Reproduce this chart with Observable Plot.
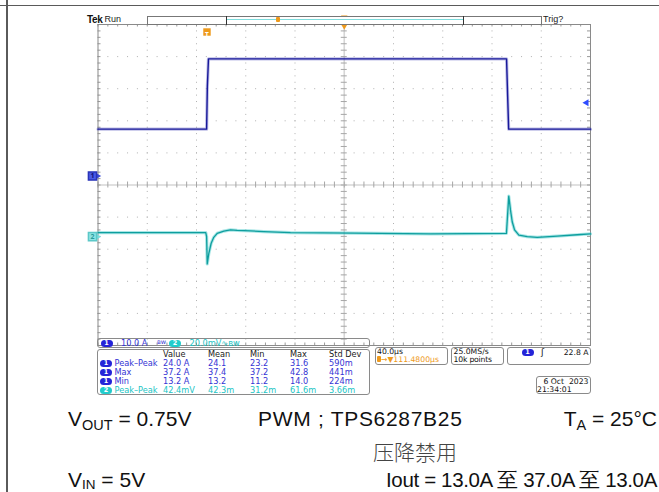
<!DOCTYPE html>
<html><head><meta charset="utf-8">
<script src="https://cdn.jsdelivr.net/npm/d3@7"></script>
<script src="https://cdn.jsdelivr.net/npm/@observablehq/plot@0.6"></script>
<style>
body{margin:0;background:#fff;}
#wrap{position:relative;width:659px;height:492px;overflow:hidden;background:#fff;font-family:"DejaVu Sans",sans-serif;}
#chart{position:absolute;left:0;top:0;}
.a{position:absolute;white-space:nowrap;line-height:1;}
.ro{font-size:8.2px;color:#111;}
.rr{font-size:7.7px;color:#111;}
.box{position:absolute;border:1px solid #8a8a8a;border-radius:3px;box-sizing:border-box;}
.pill{display:inline-block;width:12px;height:7px;border-radius:3.5px;color:#fff;font-size:6.5px;font-weight:bold;text-align:center;line-height:7px;vertical-align:top;}
.big{font-family:"Liberation Sans",Arial,sans-serif;font-size:21px;color:#111;}
.sub{font-size:14.5px;position:relative;top:4.5px;}
.sub2{font-size:13.5px;position:relative;top:2.5px;}
.line{position:absolute;}
</style></head>
<body><div id="wrap"><div id="chart"></div></div>
<script>
// ---- scope settings ----
const timePerDiv = 40;          // µs/div
const triggerToCenter = 111.48; // µs
const ch1Scale = 10;            // A/div
const ch1Offset = 0.28;         // div (ground marker position)
const ch2Scale = 20;            // mV/div
const ch2Offset = -1.61;        // div
const trigLevel = 22.8;         // A

// ---- channel 1: load current (A) vs time from trigger (µs) ----
const ch1Time = [-88.5, -0.3, 0.3, 1.2, 243.3, 244.1, 245.0, 311.5];
const ch1Amps = [14.6, 14.6, 28.0, 36.5, 36.5, 26.0, 14.6, 14.6];

// ---- channel 2: output voltage, AC coupled (mV) vs time (µs) ----
const ch2Time = [-88.5, -1.0, -0.3, 0.2, 1.5, 3.4, 5.5, 8.3, 13.7, 19.1, 24.5, 35.3, 46.2, 67.8, 120, 181.5, 243.2, 245.1, 246.5, 247.9, 249.8, 253.3, 260.1, 268.2, 284.4, 300.7, 311.5];
const ch2mV   = [2.5, 2.5, 0.0, -17.0, -10.4, -4.1, -0.4, 2.1, 3.5, 4.2, 3.9, 3.6, 3.2, 2.5, 2.2, 1.7, 2.0, 25.3, 16.6, 9.3, 4.2, 1.0, 0.0, -0.4, 0.4, 1.2, 1.7];

// ---- measurement table ----
const measHeaders = ["Value", "Mean", "Min", "Max", "Std Dev"];
const measChannel = [1, 1, 1, 2];
const measLabels = ["Peak–Peak", "Max", "Min", "Peak–Peak"];
const measValue = ["24.0 A", "37.2 A", "13.2 A", "42.4mV"];
const measMean = ["24.1", "37.4", "13.2", "42.3m"];
const measMin = ["23.2", "37.2", "11.2", "31.2m"];
const measMax = ["31.6", "42.8", "14.0", "61.6m"];
const measStd = ["590m", "441m", "224m", "3.66m"];

// ---- captions ----
const captionLine1 = ["V<span class='sub'>OUT</span> = 0.75V", "PWM ; TPS6287B25", "T<span class='sub'>A</span> = 25°C"];
const captionLine2 = "压降禁用";
const captionLine3 = ["V<span class='sub2'>IN</span> = 5V", "Iout = 13.0A 至 37.0A 至 13.0A"];

const C1 = "#18189a", C2 = "#0e9e9e", ORANGE = "#ee9a1c";
const xmin = triggerToCenter - 5 * timePerDiv;
const xmax = triggerToCenter + 5 * timePerDiv;
const pxX = timePerDiv / 49.25, pxY = 1 / 32.1;

const ch1 = ch1Time.map((t, i) => ({t, v: ch1Amps[i] / ch1Scale + ch1Offset}));
const ch2 = ch2Time.map((t, i) => ({t, v: ch2mV[i] / ch2Scale + ch2Offset}));

const majX = d3.range(1, 10).filter(i => i !== 5).map(i => xmin + i * timePerDiv);
const majY = d3.range(-4, 5).filter(i => i !== 0);
const minX = d3.range(0, 51).map(i => xmin + i * timePerDiv / 5);
const minY = d3.range(0, 51).map(i => -5 + i * 0.2);

const plot = Plot.plot({
  width: 659, height: 492,
  marginLeft: 97.5, marginRight: 69, marginTop: 24, marginBottom: 147,
  x: {domain: [xmin, xmax], axis: null},
  y: {domain: [-5, 5], axis: null},
  style: {background: "transparent", overflow: "visible"},
  marks: [
    Plot.ruleX(majX, {stroke: "#b0b0b0", strokeDasharray: "1,5.42"}),
    Plot.ruleY(majY, {stroke: "#b0b0b0", strokeDasharray: "1,8.85"}),
    Plot.ruleX([triggerToCenter], {stroke: "#d6d6d6", strokeWidth: 1.6}),
    Plot.ruleY([0], {stroke: "#d6d6d6", strokeWidth: 1.6}),
    Plot.ruleX(minX, {y1: -3 * pxY, y2: 3 * pxY, stroke: "#a6a6a6"}),
    Plot.ruleY(minY, {x1: triggerToCenter - 3 * pxX, x2: triggerToCenter + 3 * pxX, stroke: "#a6a6a6"}),
    Plot.ruleX(minX, {y1: 5, y2: 5 - 2.5 * pxY, stroke: "#999"}),
    Plot.ruleX(minX, {y1: -5, y2: -5 + 2.5 * pxY, stroke: "#999"}),
    Plot.ruleY(minY, {x1: xmin, x2: xmin + 3 * pxX, stroke: "#999"}),
    Plot.ruleY(minY, {x1: xmax - 3 * pxX, x2: xmax, stroke: "#999"}),
    Plot.frame({stroke: "#8a8a8a"}),
    // traces
    Plot.line(ch1, {x: "t", y: "v", stroke: "#2c2cb0", strokeWidth: 3.2, strokeOpacity: 0.3}),
    Plot.line(ch1, {x: "t", y: "v", stroke: C1, strokeWidth: 1.4}),
    Plot.line(ch2, {x: "t", y: "v", stroke: "#40c8c8", strokeWidth: 3.2, strokeOpacity: 0.45}),
    Plot.line(ch2, {x: "t", y: "v", stroke: C2, strokeWidth: 1.3}),
    // trigger marker
    Plot.dot([0], {x: d => d, frameAnchor: "top", dy: 7.5, symbol: "square", r: 4.2, fill: ORANGE}),
    Plot.text([0], {x: d => d, frameAnchor: "top", dy: 7.5, text: () => "T", fill: "#fff", fontSize: 6.5, fontWeight: "bold"}),
    // expansion point markers
    Plot.dot([triggerToCenter], {x: d => d, frameAnchor: "top", dy: 1.5, symbol: "triangle", rotate: 180, r: 2.4, fill: ORANGE}),
    Plot.dot([triggerToCenter], {x: d => d, frameAnchor: "top", dy: -7.2, symbol: "triangle", rotate: 180, r: 2.4, fill: ORANGE}),
    // channel ground markers
    Plot.dot([ch1Offset], {x: xmin, y: d => d, dx: -1.5, symbol: "triangle", rotate: 90, r: 3, fill: "#3a4ad8"}),
    Plot.dot([ch1Offset], {x: xmin, y: d => d, dx: -5.5, symbol: "square", r: 4.6, fill: "#4a5ae4", stroke: "#2a34b8"}),
    Plot.text([ch1Offset], {x: xmin, y: d => d, dx: -5.5, text: () => "1", fill: "#10107a", fontSize: 7, fontWeight: "bold"}),
    Plot.dot([ch2Offset], {x: xmin, y: d => d, dx: -1.5, symbol: "triangle", rotate: 90, r: 3, fill: "#7adcdc"}),
    Plot.dot([ch2Offset], {x: xmin, y: d => d, dx: -5.5, symbol: "square", r: 4.6, fill: "#8ee4e4", stroke: "#5cc8c8"}),
    Plot.text([ch2Offset], {x: xmin, y: d => d, dx: -5.5, text: () => "2", fill: "#2a9a9a", fontSize: 7, fontWeight: "bold"}),
    // trigger level
    Plot.dot([trigLevel / ch1Scale + ch1Offset], {x: xmax, y: d => d, dx: -4, symbol: "triangle", rotate: -90, r: 2.6, fill: "#2e4cff"})
  ]
});
document.getElementById("chart").appendChild(plot);

const wrap = document.getElementById("wrap");
function el(tag, cls, css, html) {
  const d = document.createElement(tag);
  if (cls) d.className = cls;
  if (css) d.style.cssText = css;
  if (html != null) d.innerHTML = html;
  wrap.appendChild(d);
  return d;
}
function txt(x, yc, html, cls, css, size) {
  size = size || 8.2;
  return el("div", "a " + (cls || ""), `left:${x}px;top:${yc - 0.49 * size}px;` + (css || ""), html);
}
function pill(ch) {
  return `<span class="pill" style="background:${ch === 1 ? "#2424d8" : "#22cccc"}">${ch}</span>`;
}

// page border lines
el("div", "line", "left:0;top:4.5px;width:659px;height:1.5px;background:#5a5a5a;");
el("div", "line", "left:6px;top:0;width:1.5px;height:492px;background:#5a5a5a;");

// header
txt(87, 19.5, "Tek", "", "font-family:'Liberation Sans';font-weight:bold;font-size:10px;color:#111;letter-spacing:-0.4px;", 10);
txt(104.5, 19.5, "Run", "", "font-family:'Liberation Sans';font-size:9px;color:#222;", 9);
txt(543, 19.5, "Trig?", "", "font-family:'Liberation Sans';font-size:9px;color:#222;", 9);
el("div", "line", "left:146.5px;top:15.5px;width:395px;height:9px;border:1px solid #777;box-sizing:border-box;background:#fff;");
el("div", "line", "left:225.5px;top:15.5px;width:1px;height:9px;background:#333;");
el("div", "line", "left:462.5px;top:15.5px;width:1px;height:9px;background:#333;");
el("div", "line", "left:226.5px;top:18.8px;width:236px;height:1.3px;background:#7fdcdc;");
el("div", "line", `left:276px;top:17px;width:4px;height:5px;background:${ORANGE};border-radius:1px;`);

// readout bar
el("div", "box", "left:97px;top:338px;width:273px;height:9.5px;");
txt(100.5, 343, pill(1), "", "", 7);
txt(121, 343, "10.0 A", "ro", `color:#3434d4;`);
txt(157, 343, "ʙw", "ro", `color:#3434d4;font-size:6.5px;`);
txt(169, 343, pill(2), "", "", 7);
txt(189.5, 343, "20.0mV∿ʙw", "ro", `color:#22c4c4;`);

// measurement table
el("div", "box", "left:97px;top:349px;width:273px;height:46px;");
const colX = [163, 208, 250, 290, 329];
measHeaders.forEach((h, i) => txt(colX[i], 354.5, h, "ro", "color:#222;"));
const rowY = [363, 372, 381, 390];
measLabels.forEach((lab, r) => {
  const col = measChannel[r] === 1 ? "#3434d4" : "#22c4c4";
  txt(100, rowY[r], pill(measChannel[r]), "", "", 7);
  txt(114.5, rowY[r], lab, "ro", `color:${col};`);
  [measValue, measMean, measMin, measMax, measStd].forEach((arr, c) =>
    txt(colX[c], rowY[r], arr[r], "ro", `color:${col};`));
});

// right readouts
el("div", "box", "left:374.5px;top:346.5px;width:73px;height:18.5px;");
txt(377, 352, "40.0µs", "rr", "", 7.7);
txt(377, 359.8, `<span style="display:inline-block;width:4px;height:5.5px;background:${ORANGE};border-radius:1px;vertical-align:top;"></span>→▼111.4800µs`, "rr", `color:${ORANGE};`, 7.7);
el("div", "box", "left:450.5px;top:346.5px;width:53px;height:18.5px;");
txt(453.5, 352, "25.0MS/s", "rr", "", 7.7);
txt(453.5, 359.8, "10k points", "rr", "letter-spacing:-0.2px;", 7.7);
el("div", "box", "left:506.5px;top:346.5px;width:84.5px;height:18.5px;");
txt(521.5, 352.5, pill(1), "", "", 7);
txt(541, 352.5, "ʃ", "rr", "font-size:9px;", 9);
el("div", "a rr", `right:70.5px;top:${352.5 - 0.49 * 7.7}px;`, trigLevel.toFixed(1) + " A");
el("div", "box", "left:535.5px;top:375.5px;width:55px;height:18px;");
el("div", "a rr", `right:70.5px;top:${381.8 - 0.49 * 7.7}px;`, "6 Oct&nbsp;&nbsp;2023");
txt(537, 389.3, "21:34:01", "rr", "", 7.7);

// captions
txt(68, 418, captionLine1[0], "big", "", 21);
txt(258, 418, captionLine1[1], "big", "letter-spacing:0.7px;", 21);
el("div", "a big", `right:2px;top:${418 - 0.49 * 21}px;`, captionLine1[2]);
el("div", "a", "left:373px;top:440.5px;font-family:'Noto Sans CJK SC';font-size:21px;color:#444;font-weight:300;", captionLine2);
txt(68, 479, captionLine3[0], "big", "", 21);
el("div", "a big", `right:2px;top:${480 - 0.49 * 20.5}px;font-size:20.5px;letter-spacing:-0.35px;`, captionLine3[1]);
</script>
</body></html>
